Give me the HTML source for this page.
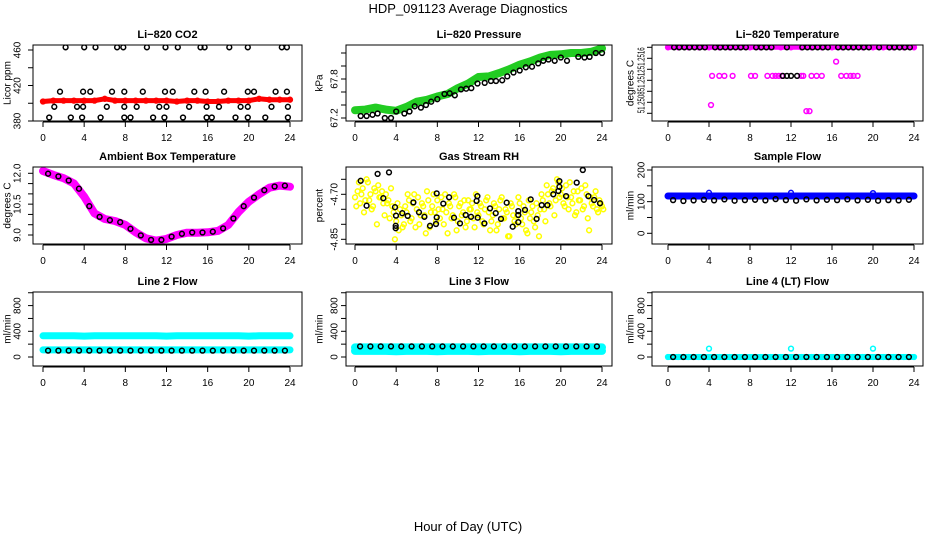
<!DOCTYPE html>
<html><head><meta charset="utf-8"><style>
body{margin:0;background:#fff}
svg{display:block;font-family:"Liberation Sans",sans-serif}
</style></head><body>
<svg id="c" width="936" height="540" viewBox="0 0 936 540">
<rect width="936" height="540" fill="#fff"/>
<text x="468" y="13" text-anchor="middle" font-size="13">HDP_091123  Average Diagnostics</text>
<text x="468" y="531" text-anchor="middle" font-size="13">Hour of Day (UTC)</text>
</svg>
<script>
// ---- data ----
const xTicks = [0,4,8,12,16,20,24];
const H25 = [0,1,2,3,4,5,6,7,8,9,10,11,12,13,14,15,16,17,18,19,20,21,22,23,24];
const halfHours = [0.5,1.5,2.5,3.5,4.5,5.5,6.5,7.5,8.5,9.5,10.5,11.5,12.5,13.5,14.5,15.5,16.5,17.5,18.5,19.5,20.5,21.5,22.5,23.5];

// CO2
const co2Red = [402,403,403,403,403,403,405,403,403,403,403,403,403,402,403,403,402,402,403,403,403,405,404,404,404];
const co2BlackX = [2.2,4.0,5.1,7.2,7.8,10.1,11.9,13.1,15.3,15.7,18.1,19.9,23.2,23.7, 1.65,3.9,4.6,6.7,7.9,9.7,11.85,12.6,14.7,15.8,17.6,19.9,20.5,22.6,23.7, 1.1,3.3,3.9,6.2,7.9,9.1,11.3,12.0,14.2,15.9,17.1,19.2,19.9,22.2,23.8, 0.6,2.7,3.8,5.6,7.9,8.5,10.7,11.8,13.6,15.9,16.4,18.7,19.9,21.6,23.8];
const co2BlackY = [463,463,463,463,463,463,463,463,463,463,463,463,463,463, 413,413,413,413,413,413,413,413,413,413,413,413,413,413,413, 396,396,396,396,396,396,396,396,396,396,396,396,396,396,396, 384,384,384,384,384,384,384,384,384,384,384,384,384,384,384];

// Pressure
const presGreen = [67.32,67.33,67.36,67.33,67.31,67.37,67.45,67.48,67.53,67.57,67.66,67.73,67.83,67.84,67.89,67.95,68.02,68.07,68.13,68.17,68.18,68.20,68.20,68.22,68.27];
const presBlackX = [0.55,1.13,1.7,2.2,2.9,3.5,4.0,4.8,5.3,5.8,6.4,6.9,7.4,8.0,8.7,9.2,9.7,10.3,10.8,11.3,11.9,12.6,13.2,13.7,14.3,14.8,15.4,16.0,16.6,17.2,17.8,18.3,18.8,19.4,20.0,20.6,21.7,22.3,22.8,23.4,24.0];
const presBlackY = [67.23,67.23,67.25,67.27,67.20,67.20,67.30,67.27,67.30,67.38,67.36,67.40,67.45,67.49,67.57,67.58,67.55,67.64,67.65,67.66,67.73,67.74,67.77,67.77,67.78,67.84,67.90,67.93,67.98,67.99,68.04,68.08,68.10,68.08,68.13,68.08,68.14,68.13,68.14,68.20,68.20];

// Li-820 temperature
const tempTop = [51.2518,51.2518,51.2518,51.2518,51.2518,51.2518,51.2518,51.2518,51.2518,51.2518,51.2518,51.2518,51.2518,51.2518,51.2518,51.2518,51.2518,51.2518,51.2518,51.2518,51.2518,51.2518,51.2518,51.2518,51.2518];
const tempMagX = [4.3,5.0,5.5,6.3,8.1,8.5,9.7,10.2,10.5,10.8,11.1,13.0,13.2,14.0,14.5,15.0,16.9,17.4,17.8,18.1,18.5,4.2,13.5,13.8,16.4];
const tempMagY = [51.25128,51.25128,51.25128,51.25128,51.25128,51.25128,51.25128,51.25128,51.25128,51.25128,51.25128,51.25128,51.25128,51.25128,51.25128,51.25128,51.25128,51.25128,51.25128,51.25128,51.25128,51.25075,51.25064,51.25064,51.25154];
const tempBlackX = [0.6,1.1,1.6,2.1,2.6,3.1,3.6,4.6,5.1,5.6,6.1,6.6,7.1,7.6,8.6,9.1,9.6,10.1,11.6,13.1,13.6,14.1,14.6,15.1,15.6,16.6,17.1,17.6,18.1,18.6,19.1,19.6,20.6,21.6,22.1,22.6,23.1,23.6, 11.2,11.6,12.0,12.6];
const tempBlackY = [51.2518,51.2518,51.2518,51.2518,51.2518,51.2518,51.2518,51.2518,51.2518,51.2518,51.2518,51.2518,51.2518,51.2518,51.2518,51.2518,51.2518,51.2518,51.2518,51.2518,51.2518,51.2518,51.2518,51.2518,51.2518,51.2518,51.2518,51.2518,51.2518,51.2518,51.2518,51.2518,51.2518,51.2518,51.2518,51.2518,51.2518,51.2518, 51.25128,51.25128,51.25128,51.25128];

// Ambient box temperature
const ambMag = [12.11,11.92,11.76,11.51,10.86,10.05,9.78,9.68,9.49,9.13,8.84,8.73,8.81,9.0,9.11,9.11,9.13,9.2,9.49,10.12,10.62,10.98,11.30,11.40,11.35];
const ambBlack = [11.98,11.85,11.65,11.25,10.4,9.88,9.72,9.62,9.30,8.98,8.76,8.76,8.92,9.06,9.12,9.12,9.16,9.32,9.80,10.40,10.82,11.18,11.36,11.40];

// Gas stream RH
const rhYellowA = [-4.71,-4.69,-4.73,-4.68,-4.72,-4.66,-4.70,-4.74,-4.69,-4.67,-4.71,-4.73,-4.70,
-4.72,-4.68,-4.76,-4.79,-4.82,-4.77,-4.80,
-4.76,-4.72,-4.78,-4.70,-4.75,-4.80,-4.73,-4.77,-4.69,-4.81,-4.74,-4.76,
-4.72,-4.78,-4.75,-4.70,-4.83,-4.74,-4.77,-4.71,-4.79,-4.73,-4.76,-4.81,-4.72,-4.75,-4.78,-4.70,
-4.77,-4.74,-4.80,-4.72,-4.76,-4.79,-4.73,-4.82,-4.75,-4.71,-4.78,-4.76,-4.84,-4.74,-4.79,-4.77,
-4.73,-4.80,-4.76,-4.83,-4.78,-4.74,-4.81,-4.77,-4.75,-4.72,-4.79,-4.70,-4.74,-4.68,-4.72,-4.66,
-4.70,-4.73,-4.67,-4.75,-4.71,-4.69,-4.76,-4.72,-4.68,-4.74,-4.70,-4.82,-4.73,-4.71,-4.75,-4.72,-4.74];
const rhYellowB = [-4.74,-4.66,-4.70,-4.76,-4.65,-4.72,-4.75,-4.68,-4.80,-4.71,-4.69,-4.77,-4.73,
-4.78,-4.74,-4.85,-4.73,-4.75,-4.81,-4.74,
-4.70,-4.79,-4.73,-4.81,-4.71,-4.77,-4.74,-4.83,-4.72,-4.76,-4.70,-4.79,
-4.75,-4.71,-4.80,-4.76,-4.73,-4.78,-4.70,-4.82,-4.74,-4.77,-4.72,-4.79,-4.75,-4.73,-4.81,-4.76,
-4.73,-4.79,-4.75,-4.71,-4.82,-4.77,-4.74,-4.80,-4.72,-4.78,-4.75,-4.84,-4.73,-4.77,-4.80,-4.71,
-4.78,-4.74,-4.82,-4.72,-4.76,-4.79,-4.73,-4.84,-4.70,-4.75,-4.67,-4.73,-4.69,-4.77,-4.65,-4.71,
-4.68,-4.74,-4.71,-4.66,-4.73,-4.77,-4.69,-4.72,-4.75,-4.67,-4.78,-4.71,-4.74,-4.69,-4.76,-4.73,-4.75];
const rhBlackX = [0.55,1.13,2.2,2.75,3.3,3.89,3.98,3.95,3.95,4.6,5.12,5.67,6.22,6.74,7.29,7.87,7.94,7.94,8.58,9.14,9.62,10.2,10.76,11.27,11.82,11.89,11.92,12.57,13.12,13.67,14.19,14.74,15.32,15.87,15.87,15.87,16.52,17.07,17.65,18.14,18.69,19.27,19.76,19.86,19.86,20.51,21.54,22.13,22.68,23.23,23.81];
const rhBlackY = [-4.655,-4.738,-4.632,-4.713,-4.627,-4.743,-4.771,-4.805,-4.813,-4.763,-4.772,-4.727,-4.760,-4.775,-4.805,-4.799,-4.697,-4.777,-4.731,-4.710,-4.778,-4.797,-4.769,-4.775,-4.722,-4.706,-4.778,-4.797,-4.747,-4.763,-4.782,-4.728,-4.808,-4.756,-4.769,-4.793,-4.752,-4.717,-4.782,-4.736,-4.736,-4.700,-4.689,-4.675,-4.656,-4.706,-4.661,-4.619,-4.706,-4.719,-4.730];

// Sample flow
const sfBlue = [118,118,118,118,118,118,118,118,118,118,118,118,118,118,118,118,118,118,118,118,118,118,118,118,118];
const sfSpikeX = [4,12,20];
const sfSpikeY = [128,128,127];
const sfBlack = [105,102,104,106,104,107,103,105,106,104,108,105,103,107,104,106,105,107,104,106,103,105,104,106];

// Line 2 flow
const l2CyanHigh = [330,330,330,330,325,330,330,330,330,330,330,330,325,330,330,330,330,330,330,330,325,330,330,330,330];
const l2CyanLow = [110,110,110,110,110,110,110,110,110,110,110,110,110,110,110,110,110,110,110,110,110,110,110,110,110];
const l2Black = [100,100,100,100,100,100,100,100,100,100,100,100,100,100,100,100,100,100,100,100,100,100,100,100];

// Line 3 flow
const l3CyanHigh = [150,150,150,150,150,150,150,150,150,150,150,150,150,150,150,150,150,150,150,150,150,150,150,150,150];
const l3CyanLow = [95,95,95,95,90,95,95,95,90,95,95,95,90,95,95,95,90,95,95,95,90,95,95,95,95];
const l3Black = [165,165,165,165,165,165,165,165,165,165,165,165,165,165,165,165,165,165,165,165,165,165,165,165];

// Line 4 flow
const l4Cyan = [0,0,0,0,0,0,0,0,0,0,0,0,0,0,0,0,0,0,0,0,0,0,0,0,0];
const l4SpikeX = [4,12,20];
const l4SpikeY = [130,130,130];
const l4Black = [0,0,0,0,0,0,0,0,0,0,0,0,0,0,0,0,0,0,0,0,0,0,0,0];

// ---- drawing ----
const NS = 'http://www.w3.org/2000/svg';
const svg = document.getElementById('c');
function mk(tag, attrs, parent) {
  const e = document.createElementNS(NS, tag);
  for (const k in attrs) e.setAttribute(k, attrs[k]);
  (parent || svg).appendChild(e);
  return e;
}
const cols = [
  {l:33, r:302, x0:43, x24:290, lab:15, tit:25},
  {l:346, r:612, x0:355, x24:602, lab:11, tit:26},
  {l:652, r:923, x0:668, x24:914, lab:10, tit:21}
];
const rows = [{t:45, b:121}, {t:167, b:244}, {t:292, b:366}];

function panel(name, title, ytitle, ci, ri, yRef, ticks, labels, series, labLen) {
  const c = cols[ci], r = rows[ri];
  const g = mk('g', {});
  
  
  const xs = h => c.x0 + (c.x24 - c.x0) * h / 24;
  const ys = v => yRef[1] + (v - yRef[0]) * (yRef[3] - yRef[1]) / (yRef[2] - yRef[0]);
  const clipId = 'clip-' + name;
  const cp = mk('clipPath', {id: clipId}, g);
  mk('rect', {x: c.l, y: r.t, width: c.r - c.l, height: r.b - r.t}, cp);
  const pg = mk('g', {'clip-path': 'url(#' + clipId + ')'}, g);
  
  
  series.forEach(s => {
    const sg = mk('g', {}, pg);
    
    
    if (s.band) {
      const pts = s.x.map((h, i) => xs(h).toFixed(1) + ',' + ys(s.y[i]).toFixed(1)).join(' ');
      mk('polyline', {points: pts, fill: 'none', stroke: s.color, 'stroke-width': s.band, 'stroke-linejoin': 'round', 'stroke-linecap': 'round'}, sg);
    }
    s.x.forEach((h, i) => {
      const p = mk('circle', {cx: xs(h).toFixed(1), cy: ys(s.y[i]).toFixed(1), r: 2.4, fill: 'none', stroke: s.color, 'stroke-width': 1.5}, sg);
      
      
    });
  });
  const box = mk('rect', {x: c.l, y: r.t, width: c.r - c.l, height: r.b - r.t, fill: 'none', stroke: '#000', 'stroke-width': 1}, g);
  
  
  const xa = mk('g', {}, g);
  
  
  mk('line', {x1: xs(0), x2: xs(24), y1: r.b + 1, y2: r.b + 1, stroke: '#000'}, xa);
  xTicks.forEach(t => {
    mk('line', {x1: xs(t), x2: xs(t), y1: r.b + 1, y2: r.b + 6, stroke: '#000'}, xa);
    const tx = mk('text', {x: xs(t), y: r.b + 20, 'text-anchor': 'middle', 'font-size': 10}, xa);
    tx.textContent = t;
    
    
  });
  const ya = mk('g', {}, g);
  
  
  ticks.forEach(t => {
    const y = ys(t);
    if (y < r.t - 1 || y > r.b + 1) return;
    mk('line', {x1: c.l - 5, x2: c.l, y1: y, y2: y, stroke: '#000'}, ya);
  });
  labels.forEach(t => {
    const y = ys(parseFloat(t));
    const at = {x: c.l - c.lab, y: y, 'text-anchor': 'middle', 'dominant-baseline': 'central', 'font-size': 10, transform: 'rotate(-90 ' + (c.l - c.lab) + ' ' + y + ')'};
    if (labLen) { at.textLength = labLen; at.lengthAdjust = 'spacingAndGlyphs'; }
    const tx = mk('text', at, ya);
    tx.textContent = t;
    
    
  });
  const ym = (r.t + r.b) / 2, yx = c.l - c.tit;
  const yt = mk('text', {x: yx, y: ym, 'text-anchor': 'middle', 'dominant-baseline': 'central', 'font-size': 10, transform: 'rotate(-90 ' + yx + ' ' + ym + ')'}, g);
  yt.textContent = ytitle;
  
  
  const tt = mk('text', {x: (c.l + c.r) / 2, y: r.t - 7, 'text-anchor': 'middle', 'font-size': 11, 'font-weight': 'bold'}, g);
  tt.textContent = title;
  
  
}

const qh = rhYellowA.map((_, i) => i * 0.25);
const qh2 = rhYellowB.map((_, i) => i * 0.25 + 0.125);
const flowTicks = [0,200,400,600,800,1000];
const flowRef = [0, 357, 400, 331.3];

panel('co2', 'Li\u2212820 CO2', 'Licor ppm', 0, 0, [380, 121, 460, 50], [380,400,420,440,460], ['380','420','460'], [
  {name:'co2-red-series', x:H25, y:co2Red, color:'#ff0000', band:5},
  {name:'co2-black-series', x:co2BlackX, y:co2BlackY, color:'#000'}
]);
panel('pressure', 'Li\u2212820 Pressure', 'kPa', 1, 0, [67.2, 118, 67.8, 79], [67.2,67.4,67.6,67.8,68.0,68.2], ['67.2','67.8'], [
  {name:'pressure-green-series', x:H25, y:presGreen, color:'#22cc22', band:8},
  {name:'pressure-black-series', x:presBlackX, y:presBlackY, color:'#000'}
]);
panel('li820-temp', 'Li\u2212820 Temperature', 'degrees C', 2, 0, [51.2516, 58.3, 51.2512, 80.3], [51.2506,51.2508,51.2510,51.2512,51.2514,51.2516,51.2518], ['51.2508','51.2512','51.2516'], [
  {name:'li820-temp-magenta-top', x:H25, y:tempTop, color:'#ff00ff', band:5},
  {name:'li820-temp-magenta-points', x:tempMagX, y:tempMagY, color:'#ff00ff'},
  {name:'li820-temp-black-series', x:tempBlackX, y:tempBlackY, color:'#000'}
], 22);
panel('ambient-temp', 'Ambient Box Temperature', 'degrees C', 0, 1, [9.0, 235, 12.0, 173.3], [9.0,9.5,10.0,10.5,11.0,11.5,12.0], ['9.0','10.5','12.0'], [
  {name:'ambient-magenta-series', x:H25, y:ambMag, color:'#ff00ff', band:8},
  {name:'ambient-black-series', x:halfHours, y:ambBlack, color:'#000'}
]);
panel('rh', 'Gas Stream RH', 'percent', 1, 1, [-4.70, 194.3, -4.85, 239.3], [-4.85,-4.80,-4.75,-4.70,-4.65], ['-4.70','-4.85'], [
  {name:'rh-yellow-series-a', x:qh, y:rhYellowA, color:'#ffff00'},
  {name:'rh-yellow-series-b', x:qh2, y:rhYellowB, color:'#ffff00'},
  {name:'rh-black-series', x:rhBlackX, y:rhBlackY, color:'#000'}
]);
panel('sample-flow', 'Sample Flow', 'ml/min', 2, 1, [0, 233.3, 200, 170], [0,50,100,150,200], ['0','100','200'], [
  {name:'sample-flow-blue-series', x:H25, y:sfBlue, color:'#0000ff', band:7},
  {name:'sample-flow-blue-spikes', x:sfSpikeX, y:sfSpikeY, color:'#0000ff'},
  {name:'sample-flow-black-series', x:halfHours, y:sfBlack, color:'#000'}
]);
panel('line2-flow', 'Line 2 Flow', 'ml/min', 0, 2, flowRef, flowTicks, ['0','400','800'], [
  {name:'line2-cyan-high', x:H25, y:l2CyanHigh, color:'#00ffff', band:7},
  {name:'line2-cyan-low', x:H25, y:l2CyanLow, color:'#00ffff', band:7},
  {name:'line2-black-series', x:halfHours, y:l2Black, color:'#000'}
]);
panel('line3-flow', 'Line 3 Flow', 'ml/min', 1, 2, flowRef, flowTicks, ['0','400','800'], [
  {name:'line3-cyan-high', x:H25, y:l3CyanHigh, color:'#00ffff', band:8},
  {name:'line3-cyan-low', x:H25, y:l3CyanLow, color:'#00ffff', band:8},
  {name:'line3-black-series', x:halfHours, y:l3Black, color:'#000'}
]);
panel('line4-flow', 'Line 4 (LT) Flow', 'ml/min', 2, 2, flowRef, flowTicks, ['0','400','800'], [
  {name:'line4-cyan-series', x:H25, y:l4Cyan, color:'#00ffff', band:6},
  {name:'line4-cyan-spikes', x:l4SpikeX, y:l4SpikeY, color:'#00ffff'},
  {name:'line4-black-series', x:halfHours, y:l4Black, color:'#000'}
]);
</script>
</body></html>
